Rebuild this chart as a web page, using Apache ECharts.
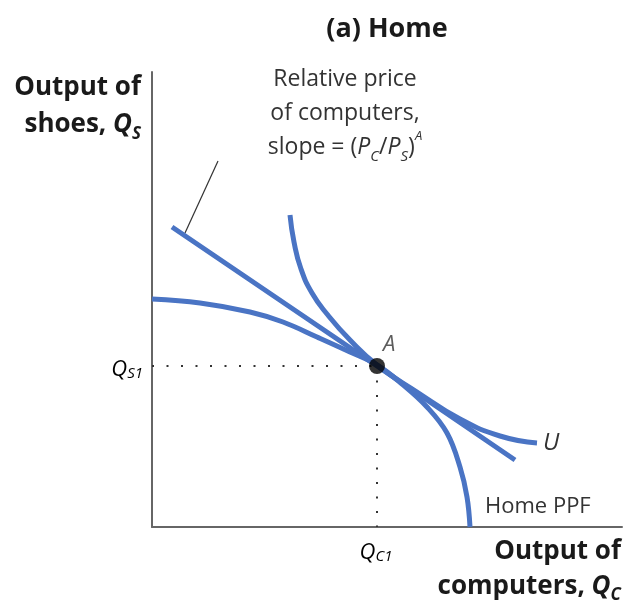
<!DOCTYPE html>
<html>
<head>
<meta charset="utf-8">
<script src="https://cdn.jsdelivr.net/npm/echarts@6/dist/echarts.min.js"></script>
<style>
  html, body { margin: 0; padding: 0; background: #fff; }
  #chart { width: 625px; height: 606px; }
</style>
</head>
<body>
<div id="chart"></div>
<script>
// values (x = output of computers, y = output of shoes)
const ppfPoints = [[0, 228], [48, 224], [98, 215], [131, 205], [165, 190], [198, 175], [225, 162],
  [250, 143], [275, 120], [295, 94], [308, 60], [315, 30], [318, 0]]
const indiffPoints = [[138, 312], [142, 285], [149, 258], [160, 234], [175, 213], [198, 187], [225, 162],
  [265, 135], [308, 108], [348, 91], [385, 84]]
const priceLine = [[20, 300], [225, 161], [363, 67]]
const pointA = [225, 161]
const leader = [[33, 294], [66, 366]]
const axisMax = { x: 470, y: 455 }

const blue = '#4a74c4'
const font = '"Open Sans", "Noto Sans", sans-serif'

const chart = echarts.init(document.getElementById('chart'))

const subRich = {
  it: { fontStyle: 'italic', fontFamily: font, fontSize: 22, color: '#444' },
  sub: { fontStyle: 'italic', fontFamily: font, fontSize: 15, color: '#444', verticalAlign: 'bottom', lineHeight: 22 },
}

chart.setOption({
  animation: false,
  backgroundColor: '#fff',
  grid: { left: 152, top: 72, width: 470, height: 455 },
  xAxis: {
    type: 'value', min: 0, max: axisMax.x,
    axisLine: { onZero: false, lineStyle: { color: '#666', width: 2 } },
    axisTick: { show: false }, axisLabel: { show: false }, splitLine: { show: false },
  },
  yAxis: {
    type: 'value', min: 0, max: axisMax.y,
    axisLine: { show: true, onZero: false, lineStyle: { color: '#666', width: 2 } },
    axisTick: { show: false }, axisLabel: { show: false }, splitLine: { show: false },
  },
  series: [
    {
      type: 'line', data: [[0, pointA[1]], pointA], symbol: 'none', silent: true,
      lineStyle: { color: '#333', width: 2, type: [2, 12.5] },
    },
    {
      type: 'line', data: [pointA, [pointA[0], 0]], symbol: 'none', silent: true,
      lineStyle: { color: '#333', width: 2, type: [2, 12.5] },
    },
    {
      type: 'line', data: leader, symbol: 'none', silent: true,
      lineStyle: { color: '#333', width: 1.2 },
    },
    {
      name: 'Home PPF', type: 'line', data: ppfPoints, smooth: 0.4, symbol: 'none',
      lineStyle: { color: blue, width: 5 },
    },
    {
      name: 'price', type: 'line', data: priceLine, symbol: 'none',
      lineStyle: { color: blue, width: 5 },
    },
    {
      name: 'U', type: 'line', data: indiffPoints, smooth: 0.5, symbol: 'none',
      lineStyle: { color: blue, width: 5 },
      endLabel: {
        show: true, formatter: 'U', fontFamily: font, fontStyle: 'italic',
        fontSize: 24, color: '#333', distance: 6,
      },
    },
    {
      type: 'scatter', data: [pointA], symbolSize: 16, z: 5,
      itemStyle: { color: '#000' },
      label: {
        show: true, formatter: 'A', position: [14, -24], fontFamily: font,
        fontStyle: 'italic', fontSize: 22, color: '#333',
      },
    },
  ],
  graphic: [
    {
      type: 'text', x: 387, y: 29,
      style: {
        text: '(a) Home', font: 'bold 27px ' + font, fill: '#1a1a1a',
        textAlign: 'center', textVerticalAlign: 'middle',
      },
    },
    {
      type: 'text', x: 141, y: 106,
      style: {
        text: '{b|Output of}\n{b|shoes, }{bi|Q}{bs|S}',
        textAlign: 'right', textVerticalAlign: 'middle', fill: '#1a1a1a',
        rich: {
          b: { fontFamily: font, fontWeight: 'bold', fontSize: 26, lineHeight: 37 },
          bi: { fontFamily: font, fontWeight: 'bold', fontStyle: 'italic', fontSize: 26, lineHeight: 37 },
          bs: { fontFamily: font, fontWeight: 'bold', fontStyle: 'italic', fontSize: 17, lineHeight: 26, verticalAlign: 'bottom' },
        },
      },
    },
    {
      type: 'text', x: 621, y: 569,
      style: {
        text: '{b|Output of}\n{b|computers, }{bi|Q}{bs|C}',
        textAlign: 'right', textVerticalAlign: 'middle', fill: '#1a1a1a',
        rich: {
          b: { fontFamily: font, fontWeight: 'bold', fontSize: 26, lineHeight: 35 },
          bi: { fontFamily: font, fontWeight: 'bold', fontStyle: 'italic', fontSize: 26, lineHeight: 35 },
          bs: { fontFamily: font, fontWeight: 'bold', fontStyle: 'italic', fontSize: 17, lineHeight: 25, verticalAlign: 'bottom' },
        },
      },
    },
    {
      type: 'text', x: 345, y: 113,
      style: {
        text: '{r|Relative price}\n{r|of computers,}\n{r|slope = (}{i|P}{s|C}{r|/}{i|P}{s|S}{r|)}{p|A}',
        textAlign: 'center', textVerticalAlign: 'middle', fill: '#333',
        rich: {
          r: { fontFamily: font, fontSize: 23, lineHeight: 34 },
          i: { fontFamily: font, fontStyle: 'italic', fontSize: 23, lineHeight: 34 },
          s: { fontFamily: font, fontStyle: 'italic', fontSize: 15, lineHeight: 23, verticalAlign: 'bottom' },
          p: { fontFamily: font, fontStyle: 'italic', fontSize: 13, lineHeight: 19, verticalAlign: 'top' },
        },
      },
    },
    {
      type: 'text', x: 485, y: 507,
      style: {
        text: 'Home PPF', font: '22px ' + font, fill: '#333',
        textAlign: 'left', textVerticalAlign: 'middle',
      },
    },
    {
      type: 'text', x: 143, y: 370,
      style: {
        text: '{it|Q}{sub|S1}', textAlign: 'right', textVerticalAlign: 'middle', rich: subRich,
      },
    },
    {
      type: 'text', x: 376, y: 553,
      style: {
        text: '{it|Q}{sub|C1}', textAlign: 'center', textVerticalAlign: 'middle', rich: subRich,
      },
    },
  ],
})
</script>
</body>
</html>
